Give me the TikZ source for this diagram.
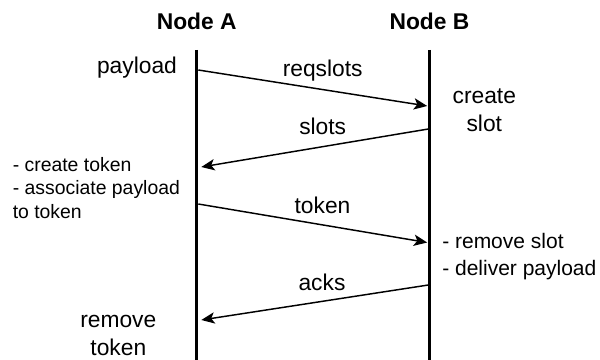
\documentclass[tikz,border=0pt]{standalone}
\usepackage{fontspec}
\setmainfont{Liberation Sans}
\usetikzlibrary{arrows.meta}
\begin{document}
\begin{tikzpicture}[x=0.75pt,y=-0.75pt,
  lifeline/.style={line width=2.4pt, line cap=butt},
  msg/.style={line width=1.1pt, -{Stealth[length=10pt,width=8.5pt,inset=2.5pt]}},
  head/.style={font=\fontsize{17.1pt}{20.5pt}\selectfont\bfseries, inner sep=0pt, anchor=base},
  lbl/.style={font=\fontsize{17.1pt}{21pt}\selectfont, inner sep=0pt, anchor=base, align=center},
  noteL/.style={font=\fontsize{14.55pt}{17.5pt}\selectfont, inner sep=0pt, anchor=base west, align=left},
  noteR/.style={font=\fontsize{15.75pt}{19pt}\selectfont, inner sep=0pt, anchor=base west},
]
\useasboundingbox (0,0) rectangle (600,360);

% participants and their lifelines
\node[head] (nodeA) at (196.7,29.3) {Node A};
\node[head] (nodeB) at (429.5,29.3) {Node B};
\coordinate (aTop) at (196.7,50);
\coordinate (aBot) at (196.7,360);
\coordinate (bTop) at (429.8,50);
\coordinate (bBot) at (429.8,360);
\draw[lifeline] (aTop) -- (aBot);
\draw[lifeline] (bTop) -- (bBot);

% message end points on the lifelines
\coordinate (m1s) at (198.3,70);
\coordinate (m1e) at (427.2,106);
\coordinate (m2s) at (428.3,129);
\coordinate (m2e) at (201.3,167);
\coordinate (m3s) at (198.3,204);
\coordinate (m3e) at (427.2,242.5);
\coordinate (m4s) at (428.3,285);
\coordinate (m4e) at (201.3,320);

% messages
\draw[msg] (m1s) -- (m1e);
\draw[msg] (m2s) -- (m2e);
\draw[msg] (m3s) -- (m3e);
\draw[msg] (m4s) -- (m4e);

% message labels
\node[lbl] (lReq) at (322.7,76.7) {reqslots};
\node[lbl] (lSlots) at (322.7,135) {slots};
\node[lbl] (lToken) at (322.5,213.3) {token};
\node[lbl] (lAcks) at (322,290) {acks};

% local actions (multi-line nodes are placed by their last baseline)
\node[lbl] (payload) at (137,73.5) {payload};
\node[lbl] (createSlot) at (484.3,131.6) {create\\slot};
\node[lbl] (removeToken) at (118.3,355.5) {remove\\token};
\node[noteL] (tokenNote) at (12.5,218.3) {- create token\\- associate payload\\to token};
\node[noteR] (removeSlot) at (442,248.3) {- remove slot};
\node[noteR] (deliver) at (442,275) {- deliver payload};
\end{tikzpicture}
\end{document}
